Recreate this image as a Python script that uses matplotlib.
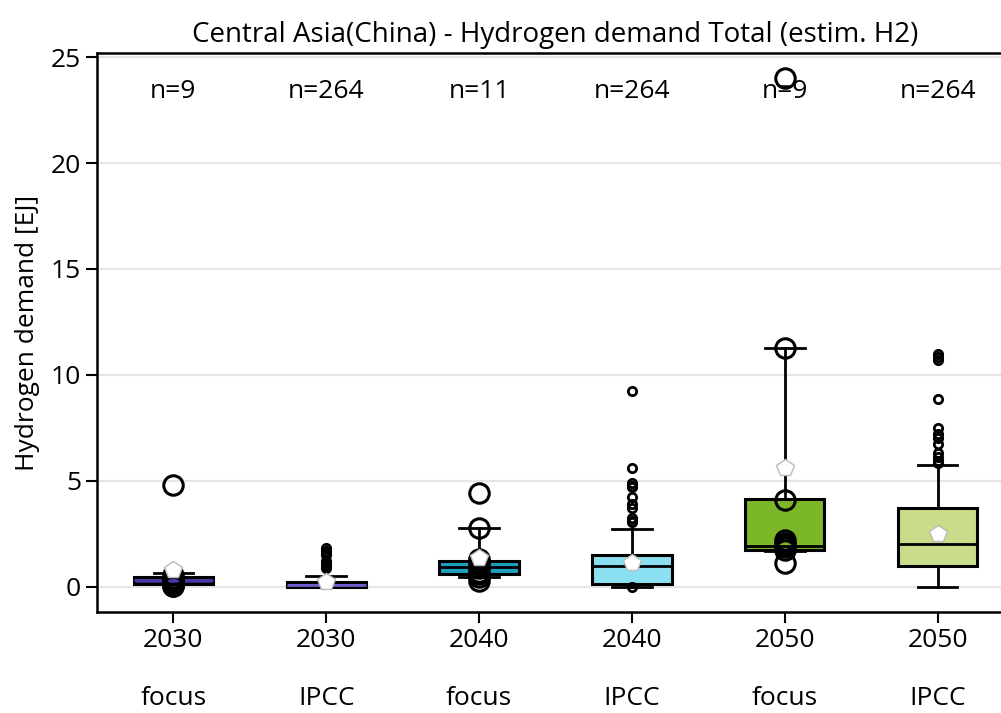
import matplotlib
matplotlib.use("Agg")
import matplotlib.pyplot as plt

plt.rcParams['font.family'] = ['Open Sans', 'DejaVu Sans']

title = 'Central Asia(China) - Hydrogen demand Total (estim. H2)'
years = ['2030', '2030', '2040', '2040', '2050', '2050']
sources = ['focus', 'IPCC', 'focus', 'IPCC', 'focus', 'IPCC']
counts = [9, 264, 11, 264, 9, 264]
colors = ['#33287f', '#9d92d8', '#1f9fbf', '#8ae0f0', '#7cb72a', '#c9dc8a']
median_colors = ['#4a3aa8', '#6a5ccc', 'black', 'black', 'black', 'black']

# box statistics
q1 = [0.14, 0.00, 0.61, 0.14, 1.74, 0.95]
med = [0.33, 0.08, 0.94, 0.99, 1.94, 2.03]
q3 = [0.47, 0.22, 1.23, 1.51, 4.16, 3.73]
whislo = [0.10, 0.00, 0.47, 0.00, 1.70, 0.00]
whishi = [0.66, 0.52, 2.79, 2.74, 11.25, 5.72]
means = [0.80, 0.20, 1.35, 1.13, 5.58, 2.50]
# small flier circles only show for the IPCC sets (focus values are drawn below)
fliers = [
    [],
    [1.80, 1.70, 1.60, 1.50, 1.20, 1.10, 1.00, 0.95, 0.90],
    [],
    [9.22, 5.58, 4.87, 4.77, 4.68, 4.21, 3.92, 3.69, 3.26, 3.10, 3.03, -0.03],
    [],
    [11.0, 10.85, 10.7, 8.84, 7.51, 7.2, 7.0, 6.75, 6.3, 6.1, 5.95, 5.85],
]

# individual focus scenario values
focus_points = {
    0: [4.82, 0.55, 0.40, 0.35, 0.30, 0.20, 0.10, 0.05, 0.02],
    2: [4.44, 2.79, 1.30, 1.20, 1.00, 0.95, 0.90, 0.70, 0.60, 0.47, 0.25],
    4: [24.0, 11.25, 4.10, 2.20, 2.05, 1.95, 1.85, 1.75, 1.13],
}

stats = []
for i in range(len(years)):
    stats.append(dict(q1=q1[i], med=med[i], q3=q3[i], whislo=whislo[i],
                      whishi=whishi[i], mean=means[i], fliers=fliers[i]))

fig = plt.figure(figsize=(10.01, 7.13), dpi=100)
ax = fig.add_axes([97 / 1001, 101 / 713, 917 / 1001, 559 / 713])

bp = ax.bxp(stats, positions=range(len(years)), widths=0.52, patch_artist=True,
            showmeans=True,
            boxprops=dict(linewidth=2.2, edgecolor='black'),
            whiskerprops=dict(linewidth=2),
            capprops=dict(linewidth=2),
            capwidths=0.26,
            flierprops=dict(marker='o', markersize=6, markerfacecolor='none',
                            markeredgecolor='black', markeredgewidth=2),
            meanprops=dict(marker='p', markersize=13, markerfacecolor='white',
                           markeredgecolor='#bbbbbb', markeredgewidth=1,
                           zorder=5))
for patch, c in zip(bp['boxes'], colors):
    patch.set_facecolor(c)
for line, c in zip(bp['medians'], median_colors):
    line.set_color(c)
    line.set_linewidth(2)

for pos, vals in focus_points.items():
    ax.plot([pos] * len(vals), vals, 'o', markersize=14, markerfacecolor='none',
            markeredgecolor='black', markeredgewidth=2.2, zorder=2.5)

for i, n in enumerate(counts):
    ax.text(i, 23.4, f'n={n}', ha='center', va='center', fontsize=19)

ax.set_xlim(-0.5, 5.5)
ax.set_ylim(-1.2, 25.2)
ax.set_yticks([0, 5, 10, 15, 20, 25])
ax.set_xticks(range(len(years)))
ax.set_xticklabels([f'{y}\n\n{s}' for y, s in zip(years, sources)], linespacing=1.2)
ax.tick_params(labelsize=19, width=1.5, length=8)
ax.yaxis.grid(True, color='#e6e6e6', linewidth=1.5)
ax.set_axisbelow(True)
for side in ['left', 'bottom', 'top', 'right']:
    ax.spines[side].set_linewidth(1.8)
ax.set_ylabel('Hydrogen demand [EJ]', fontsize=19, labelpad=8)
ax.set_title(title, fontsize=20, pad=8)

fig.savefig('out.png', dpi=100)
